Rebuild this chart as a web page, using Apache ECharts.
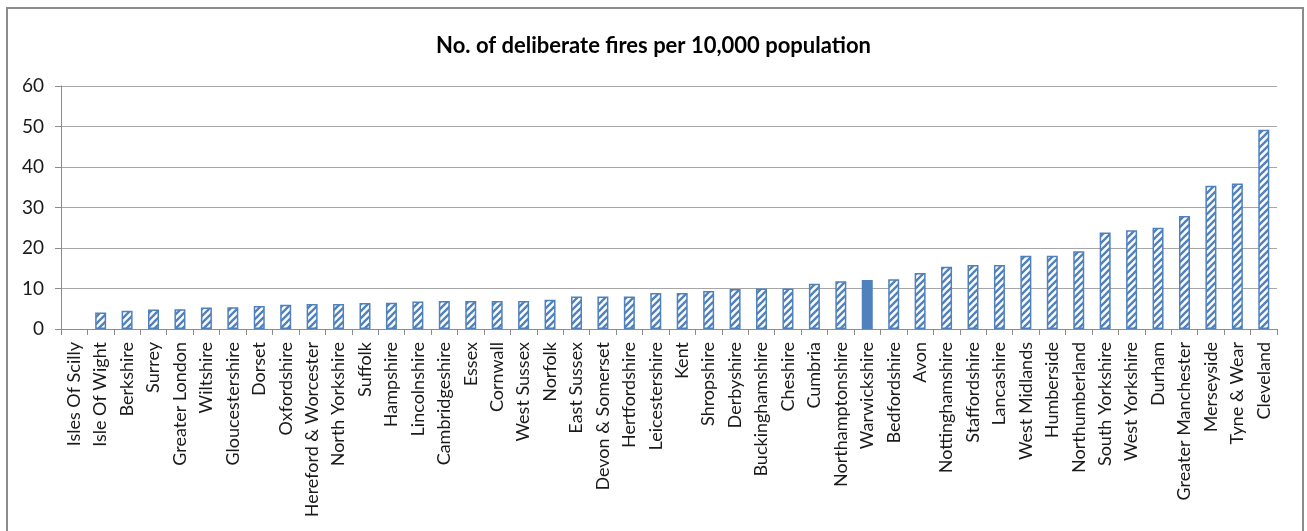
<!DOCTYPE html>
<html>
<head>
<meta charset="utf-8">
<title>No. of deliberate fires per 10,000 population</title>
<script src="https://cdn.jsdelivr.net/npm/echarts@6/dist/echarts.min.js"></script>
<style>
  html, body { margin: 0; padding: 0; background: #fff; }
  #chart { width: 1307px; height: 531px; }
</style>
</head>
<body>
<div id="chart"></div>
<script>
// Fire & rescue service areas, ordered from lowest to highest rate
const categories = [
  'Isles Of Scilly', 'Isle Of Wight', 'Berkshire', 'Surrey', 'Greater London',
  'Wiltshire', 'Gloucestershire', 'Dorset', 'Oxfordshire', 'Hereford & Worcester',
  'North Yorkshire', 'Suffolk', 'Hampshire', 'Lincolnshire', 'Cambridgeshire',
  'Essex', 'Cornwall', 'West Sussex', 'Norfolk', 'East Sussex',
  'Devon & Somerset', 'Hertfordshire', 'Leicestershire', 'Kent', 'Shropshire',
  'Derbyshire', 'Buckinghamshire', 'Cheshire', 'Cumbria', 'Northamptonshire',
  'Warwickshire', 'Bedfordshire', 'Avon', 'Nottinghamshire', 'Staffordshire',
  'Lancashire', 'West Midlands', 'Humberside', 'Northumberland', 'South Yorkshire',
  'West Yorkshire', 'Durham', 'Greater Manchester', 'Merseyside', 'Tyne & Wear',
  'Cleveland'
];

// Deliberate fires per 10,000 population
const firesPer10k = [
  0, 4.1, 4.5, 4.8, 4.9,
  5.3, 5.4, 5.7, 6.0, 6.2,
  6.2, 6.4, 6.5, 6.8, 6.9,
  6.9, 6.9, 6.9, 7.2, 8.0,
  8.0, 8.0, 8.9, 8.9, 9.4,
  9.9, 10.0, 10.0, 11.2, 11.8,
  12.1, 12.3, 13.8, 15.4, 15.8,
  15.8, 18.1, 18.1, 19.2, 23.8,
  24.4, 25.0, 27.9, 35.4, 35.9,
  49.2
];

// Area drawn as a solid bar
const highlighted = 'Warwickshire';

const yTicks = { min: 0, max: 60, interval: 10 };

const BLUE = '#4f81bd';
const FONT = 'Lato, "Open Sans", sans-serif';

// Diagonal hatch fill for the bars
function hatchPattern() {
  const size = 7;
  const c = document.createElement('canvas');
  c.width = size; c.height = size;
  const g = c.getContext('2d');
  g.fillStyle = '#ffffff';
  g.fillRect(0, 0, size, size);
  g.strokeStyle = BLUE;
  g.lineWidth = 2.3;
  g.beginPath();
  g.moveTo(-1, size + 1); g.lineTo(size + 1, -1);
  g.moveTo(-1, 1); g.lineTo(1, -1);
  g.moveTo(size - 1, size + 1); g.lineTo(size + 1, size - 1);
  g.stroke();
  return c;
}

const hatch = { image: hatchPattern(), repeat: 'repeat' };

const barData = categories.map((name, i) => {
  const v = firesPer10k[i];
  if (name === highlighted) {
    return { value: v, itemStyle: { color: BLUE, borderWidth: 0 } };
  }
  if (v === 0) {
    // a zero-height bar leaves no outline
    return { value: v, itemStyle: { borderWidth: 0 } };
  }
  return v;
});

const chart = echarts.init(document.getElementById('chart'), null, { renderer: 'canvas' });

chart.setOption({
  backgroundColor: '#ffffff',
  animation: false,
  textStyle: { fontFamily: FONT },
  title: {
    text: 'No. of deliberate fires per 10,000 population',
    left: 'center',
    top: 30,
    textStyle: {
      fontFamily: FONT,
      fontWeight: 'bold',
      fontSize: 22,
      color: '#000'
    }
  },
  graphic: [{
    type: 'rect',
    shape: { x: 7, y: 8, width: 1296, height: 560 },
    style: { fill: 'none', stroke: '#8c8c8c', lineWidth: 2 },
    silent: true,
    z: -1
  }],
  grid: {
    left: 61,
    right: 30,
    top: 86,
    bottom: 202,
    containLabel: false
  },
  xAxis: {
    type: 'category',
    data: categories,
    boundaryGap: true,
    axisLine: { show: true, lineStyle: { color: '#8c8c8c', width: 1 } },
    axisTick: { show: true, interval: 0, length: 6, lineStyle: { color: '#8c8c8c' } },
    axisLabel: {
      interval: 0,
      rotate: 90,
      margin: 13,
      fontSize: 18,
      color: '#1a1a1a',
      fontFamily: FONT
    },
    splitLine: { show: false }
  },
  yAxis: {
    type: 'value',
    min: yTicks.min,
    max: yTicks.max,
    interval: yTicks.interval,
    axisLine: { show: true, lineStyle: { color: '#8c8c8c', width: 1 } },
    axisTick: { show: true, length: 6, lineStyle: { color: '#8c8c8c' } },
    axisLabel: {
      margin: 17,
      fontSize: 19,
      color: '#1a1a1a',
      fontFamily: FONT
    },
    splitLine: { show: true, lineStyle: { color: '#a6a6a6', width: 1 } }
  },
  series: [{
    type: 'bar',
    data: barData,
    barWidth: 11,
    itemStyle: {
      color: hatch,
      borderColor: BLUE,
      borderWidth: 1.5
    }
  }]
});
</script>
</body>
</html>
